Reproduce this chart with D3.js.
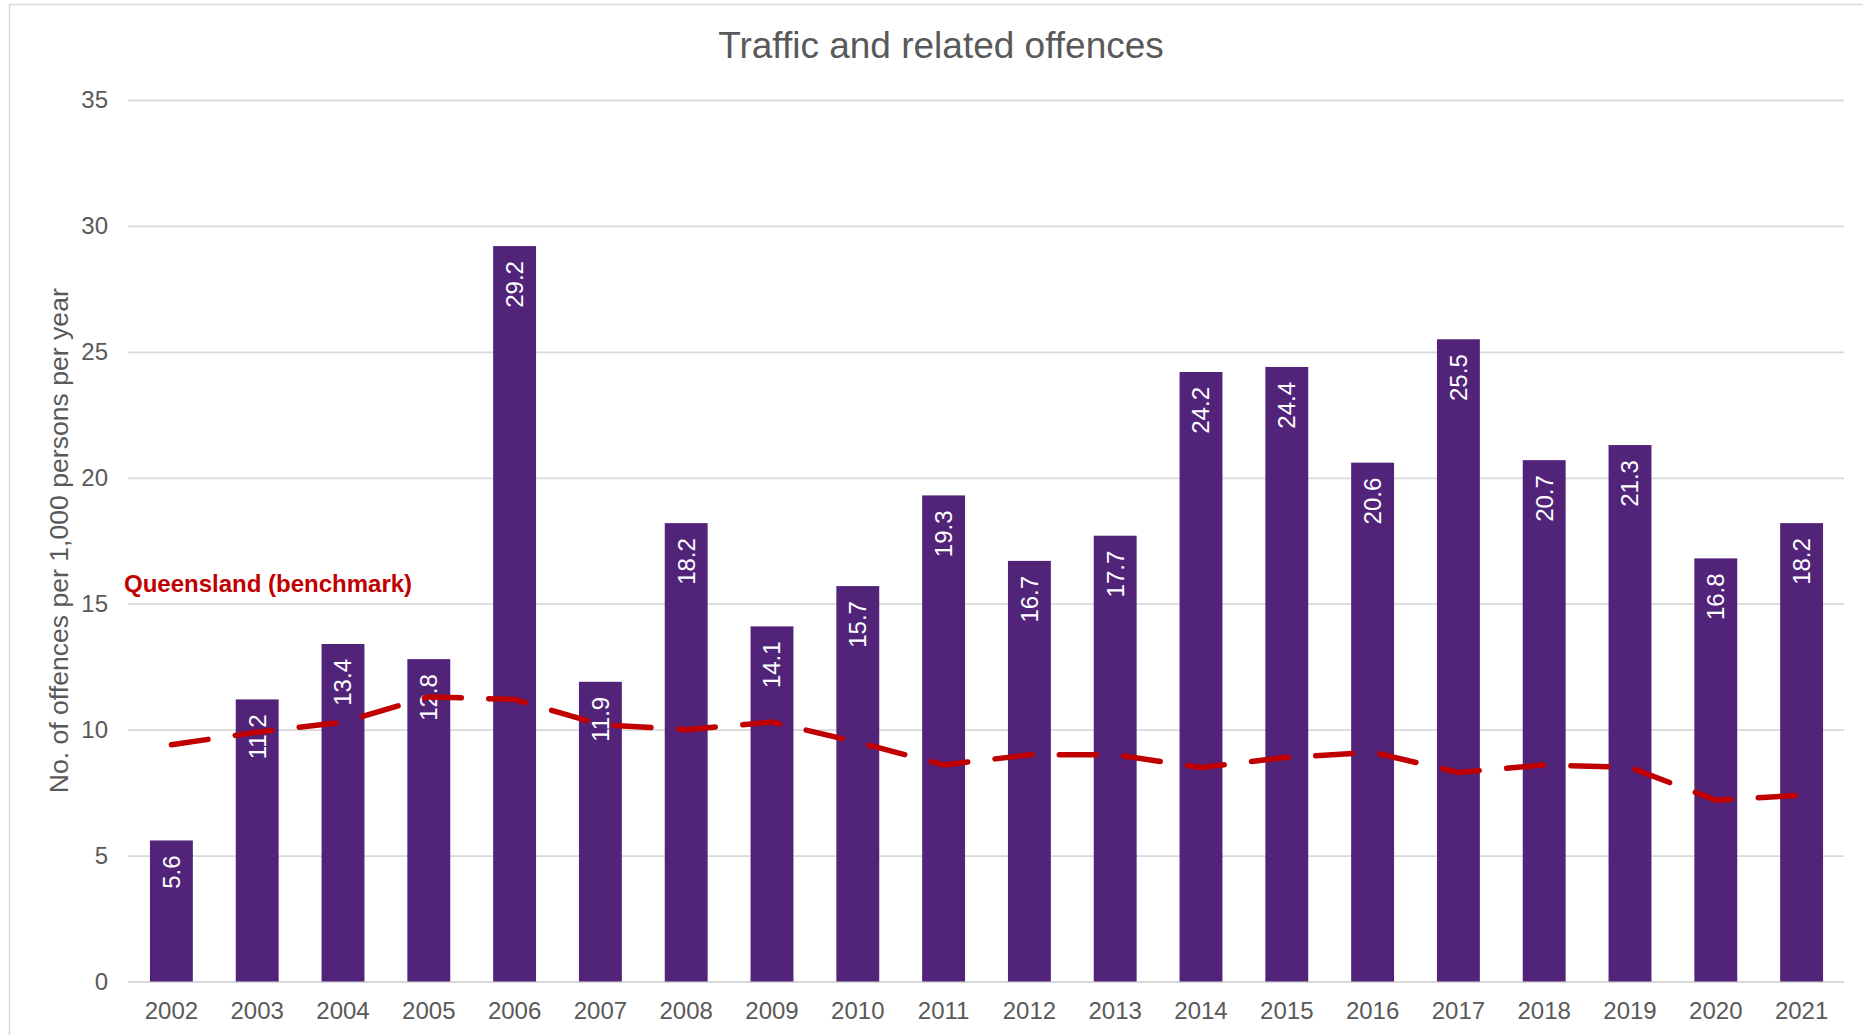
<!DOCTYPE html>
<html>
<head>
<meta charset="utf-8">
<script src="https://cdn.jsdelivr.net/npm/d3@7"></script>
<style>
  html, body { margin: 0; padding: 0; background: #fff; }
  svg { display: block; font-family: "Liberation Sans", Arial, sans-serif; }
</style>
</head>
<body>
<svg id="chart" width="1863" height="1035"></svg>
<script>
const years = ["2002","2003","2004","2005","2006","2007","2008","2009","2010","2011","2012","2013","2014","2015","2016","2017","2018","2019","2020","2021"];
const offenceRates = [5.6, 11.2, 13.4, 12.8, 29.2, 11.9, 18.2, 14.1, 15.7, 19.3, 16.7, 17.7, 24.2, 24.4, 20.6, 25.5, 20.7, 21.3, 16.8, 18.2];
const queenslandBenchmark = [9.4, 9.9, 10.3, 11.3, 11.2, 10.2, 10.0, 10.3, 9.5, 8.6, 9.0, 9.0, 8.5, 8.9, 9.1, 8.3, 8.6, 8.5, 7.2, 7.4];
const yTicks = [0, 5, 10, 15, 20, 25, 30, 35];
const chartTitle = "Traffic and related offences";
const yAxisTitle = "No. of offences per 1,000 persons per year";
const benchmarkLabel = "Queensland (benchmark)";

const svg = d3.select("#chart");
const plotLeft = 128, plotRight = 1844, plotTop = 100, plotBottom = 981.5;
const grey = "#595959";

// outer border
svg.append("rect").attr("x", 9.5).attr("y", 4.5).attr("width", 1900).attr("height", 1100)
  .attr("fill", "none").attr("stroke", "#d9d9d9").attr("stroke-width", 1.5);

const x = d3.scaleBand().domain(years).range([plotLeft + 0.5, plotRight + 0.5]).paddingInner(0.5).paddingOuter(0.25);
const y = d3.scaleLinear().domain([0, 35]).range([plotBottom, plotTop]);

// gridlines + y tick labels
const yAxis = svg.append("g").attr("transform", `translate(${plotLeft},0)`)
  .call(d3.axisLeft(y).tickValues(yTicks).tickSize(-(plotRight - plotLeft)).tickPadding(20).tickFormat(d3.format("d")));
yAxis.select(".domain").remove();
yAxis.selectAll(".tick line").attr("stroke", "#d9d9d9").attr("stroke-width", 1.8);
yAxis.selectAll(".tick text").attr("fill", grey).attr("font-size", 24).attr("font-family", "Liberation Sans, Arial, sans-serif");

// x axis labels
const xAxis = svg.append("g").attr("transform", `translate(0,${plotBottom})`)
  .call(d3.axisBottom(x).tickSize(0).tickPadding(20));
xAxis.select(".domain").remove();
xAxis.selectAll(".tick text").attr("fill", grey).attr("font-size", 24).attr("font-family", "Liberation Sans, Arial, sans-serif");

// bars
svg.append("g").selectAll("rect").data(years).join("rect")
  .attr("x", d => x(d)).attr("width", x.bandwidth())
  .attr("y", (d, i) => y(offenceRates[i]))
  .attr("height", (d, i) => y(0) - y(offenceRates[i]))
  .attr("fill", "#51247a");

// bar labels (rotated)
svg.append("g").selectAll("text").data(years).join("text")
  .attr("transform", (d, i) => `translate(${x(d) + x.bandwidth() / 2},${y(offenceRates[i]) + 15}) rotate(-90)`)
  .attr("text-anchor", "end").attr("dy", "0.35em")
  .attr("fill", "#ffffff").attr("font-size", 24)
  .text((d, i) => offenceRates[i].toFixed(1));

// benchmark dashed line
const line = d3.line().x((d, i) => x(years[i]) + x.bandwidth() / 2).y(d => y(d));
svg.append("path").datum(queenslandBenchmark).attr("d", line)
  .attr("fill", "none").attr("stroke", "#c00000").attr("stroke-width", 5.5)
  .attr("stroke-dasharray", "37,27.5").attr("stroke-linecap", "round").attr("stroke-linejoin", "round");

// benchmark label
svg.append("text").attr("x", 124).attr("y", 592).attr("fill", "#c00000")
  .attr("font-size", 24).attr("font-weight", "bold").text(benchmarkLabel);

// title
svg.append("text").attr("x", 941).attr("y", 58).attr("text-anchor", "middle")
  .attr("fill", grey).attr("font-size", 37).text(chartTitle);

// y axis title
svg.append("text").attr("transform", `translate(59,${(plotTop + plotBottom) / 2}) rotate(-90)`)
  .attr("text-anchor", "middle").attr("dy", "0.35em")
  .attr("fill", grey).attr("font-size", 26.6).text(yAxisTitle);
</script>
</body>
</html>
